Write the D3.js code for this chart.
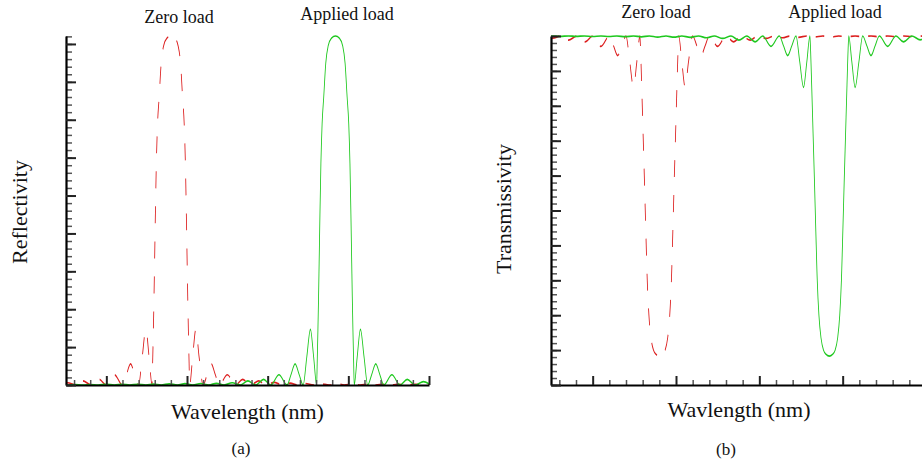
<!DOCTYPE html>
<html lang="en">
<head>
<meta charset="UTF-8">
<title>Reflectivity and transmissivity spectra</title>
<style>
  body { margin: 0; background: #fff; }
</style>
</head>
<body>
<div id="chart"></div>
<script src="https://d3js.org/d3.v7.min.js"></script>
<script>
// [wavelength (nm), value]
const zeroLoadR = [
  [1549.50, 0.003], [1549.52, 0.006], [1549.62, 0], [1549.71, 0.011], [1549.81, 0],
  [1549.91, 0.015], [1550.00, 0], [1550.10, 0.027], [1550.20, 0], [1550.25, 0.028],
  [1550.30, 0.056], [1550.35, 0.028], [1550.40, 0], [1550.445, 0.074], [1550.49, 0.147],
  [1550.53, 0.074], [1550.567, 0], [1550.574, 0.058], [1550.583, 0.145], [1550.591, 0.233],
  [1550.598, 0.322], [1550.608, 0.45], [1550.62, 0.585], [1550.635, 0.69], [1550.655, 0.76],
  [1550.68, 0.849], [1550.71, 0.895], [1550.75, 0.915], [1550.80, 0.921], [1550.85, 0.915],
  [1550.89, 0.895], [1550.92, 0.849], [1550.945, 0.76], [1550.965, 0.69], [1550.98, 0.585],
  [1550.992, 0.45], [1551.002, 0.322], [1551.009, 0.233], [1551.017, 0.145], [1551.026, 0.058],
  [1551.033, 0], [1551.07, 0.074], [1551.11, 0.147], [1551.15, 0.074], [1551.20, 0],
  [1551.25, 0.028], [1551.30, 0.056], [1551.35, 0.028], [1551.40, 0], [1551.50, 0.027],
  [1551.60, 0], [1551.69, 0.015], [1551.79, 0], [1551.89, 0.011], [1551.98, 0],
  [1552.08, 0.007], [1552.18, 0], [1552.28, 0.005], [1552.37, 0], [1552.47, 0.004],
  [1552.57, 0], [1552.66, 0.003], [1552.76, 0], [1552.86, 0.003], [1552.95, 0],
  [1553.05, 0.002], [1553.15, 0], [1553.24, 0.002], [1553.34, 0], [1553.44, 0.002],
  [1553.54, 0], [1553.63, 0.0015], [1553.73, 0], [1553.83, 0.0015], [1553.93, 0],
  [1554.00, 0.001]
];

const appliedLoadR = [
  [1549.50, 0.001], [1549.51, 0], [1549.61, 0.001], [1549.71, 0], [1549.80, 0.001],
  [1549.90, 0], [1550.00, 0.0015], [1550.10, 0], [1550.195, 0.0015], [1550.29, 0],
  [1550.39, 0.002], [1550.49, 0], [1550.585, 0.0025], [1550.68, 0], [1550.78, 0.003],
  [1550.88, 0], [1550.975, 0.0035], [1551.07, 0], [1551.17, 0.004], [1551.27, 0],
  [1551.365, 0.0045], [1551.46, 0], [1551.56, 0.006], [1551.66, 0], [1551.755, 0.011],
  [1551.85, 0], [1551.95, 0.015], [1552.04, 0], [1552.14, 0.027], [1552.24, 0],
  [1552.29, 0.028], [1552.34, 0.056], [1552.39, 0.028], [1552.44, 0], [1552.485, 0.074],
  [1552.53, 0.147], [1552.57, 0.074], [1552.607, 0], [1552.614, 0.058], [1552.623, 0.145],
  [1552.631, 0.233], [1552.638, 0.322], [1552.648, 0.45], [1552.66, 0.585], [1552.675, 0.69],
  [1552.695, 0.76], [1552.72, 0.849], [1552.75, 0.895], [1552.79, 0.915], [1552.84, 0.921],
  [1552.89, 0.915], [1552.93, 0.895], [1552.96, 0.849], [1552.985, 0.76], [1553.005, 0.69],
  [1553.02, 0.585], [1553.032, 0.45], [1553.042, 0.322], [1553.049, 0.233], [1553.057, 0.145],
  [1553.066, 0.058], [1553.073, 0], [1553.11, 0.074], [1553.15, 0.147], [1553.195, 0.074],
  [1553.24, 0], [1553.29, 0.028], [1553.34, 0.056], [1553.39, 0.028], [1553.44, 0],
  [1553.54, 0.027], [1553.64, 0], [1553.73, 0.015], [1553.83, 0], [1553.93, 0.009],
  [1554.00, 0.003]
];

const zeroLoadT = [
  [1549.50, 0.997], [1549.52, 0.994], [1549.62, 1], [1549.71, 0.988], [1549.81, 1],
  [1549.91, 0.983], [1550.00, 1], [1550.10, 0.970], [1550.20, 1], [1550.25, 0.972],
  [1550.30, 0.944], [1550.35, 0.972], [1550.40, 1], [1550.445, 0.926], [1550.49, 0.853],
  [1550.53, 0.926], [1550.567, 1], [1550.575, 0.96], [1550.588, 0.86], [1550.605, 0.72],
  [1550.622, 0.58], [1550.638, 0.44], [1550.655, 0.30], [1550.675, 0.20], [1550.70, 0.135],
  [1550.73, 0.10], [1550.76, 0.088], [1550.80, 0.083], [1550.84, 0.088], [1550.87, 0.10],
  [1550.90, 0.135], [1550.925, 0.20], [1550.945, 0.30], [1550.962, 0.44], [1550.978, 0.58],
  [1550.995, 0.72], [1551.012, 0.86], [1551.025, 0.96], [1551.033, 1], [1551.07, 0.926],
  [1551.11, 0.853], [1551.15, 0.926], [1551.20, 1], [1551.25, 0.972], [1551.30, 0.944],
  [1551.35, 0.972], [1551.40, 1], [1551.50, 0.970], [1551.60, 1], [1551.69, 0.983],
  [1551.79, 1], [1551.89, 0.988], [1551.98, 1], [1552.08, 0.993], [1552.18, 1],
  [1552.28, 0.995], [1552.37, 1], [1552.47, 0.996], [1552.57, 1], [1552.66, 0.997],
  [1552.76, 1], [1552.86, 0.997], [1552.95, 1], [1553.05, 0.998], [1553.15, 1],
  [1553.24, 0.998], [1553.34, 1], [1553.44, 0.998], [1553.54, 1], [1553.63, 0.9985],
  [1553.73, 1], [1553.83, 0.9985], [1553.93, 1], [1554.00, 0.999]
];

const appliedLoadT = [
  [1549.50, 0.999], [1549.51, 1], [1549.61, 0.999], [1549.71, 1], [1549.80, 0.999],
  [1549.90, 1], [1550.00, 0.9985], [1550.10, 1], [1550.195, 0.9985], [1550.29, 1],
  [1550.39, 0.998], [1550.49, 1], [1550.585, 0.9975], [1550.68, 1], [1550.78, 0.997],
  [1550.88, 1], [1550.975, 0.9965], [1551.07, 1], [1551.17, 0.996], [1551.27, 1],
  [1551.365, 0.995], [1551.46, 1], [1551.56, 0.993], [1551.66, 1], [1551.755, 0.988],
  [1551.85, 1], [1551.95, 0.983], [1552.04, 1], [1552.14, 0.970], [1552.24, 1],
  [1552.29, 0.972], [1552.34, 0.944], [1552.39, 0.972], [1552.44, 1], [1552.485, 0.926],
  [1552.53, 0.853], [1552.57, 0.926], [1552.607, 1], [1552.615, 0.96], [1552.628, 0.86],
  [1552.645, 0.72], [1552.662, 0.58], [1552.678, 0.44], [1552.695, 0.30], [1552.715, 0.20],
  [1552.74, 0.135], [1552.77, 0.10], [1552.80, 0.088], [1552.84, 0.083], [1552.88, 0.088],
  [1552.91, 0.10], [1552.94, 0.135], [1552.965, 0.20], [1552.985, 0.30], [1553.002, 0.44],
  [1553.018, 0.58], [1553.035, 0.72], [1553.052, 0.86], [1553.065, 0.96], [1553.073, 1],
  [1553.11, 0.926], [1553.15, 0.853], [1553.195, 0.926], [1553.24, 1], [1553.29, 0.972],
  [1553.34, 0.944], [1553.39, 0.972], [1553.44, 1], [1553.54, 0.970], [1553.64, 1],
  [1553.73, 0.983], [1553.83, 1], [1553.93, 0.989], [1554.00, 0.997]
];

const xDomain = [1549.5, 1554];
const xMajor = [1550, 1551, 1552, 1553, 1554];
const xMinor = d3.range(1549.6, 1554.01, 0.2).filter(v => Math.abs(v - Math.round(v)) > 0.01);

const width = 922, height = 466;
const plotTop = 36, plotBottom = 385;
const K = 2; // the original plot looks stretched vertically: strokes/dashes drawn in the unstretched frame
const serif = "'Liberation Serif', Tinos, 'Times New Roman', 'Nimbus Roman', 'DejaVu Serif', serif";

const svg = d3.select("#chart").append("svg")
    .attr("width", width)
    .attr("height", height);

function drawPanel(p) {
    const x = d3.scaleLinear().domain(xDomain).range([p.left, p.right]);
    const y = d3.scaleLinear().domain([0, p.yMax]).range([plotBottom, plotTop]);

    const line = d3.line()
        .x(d => x(d[0]))
        .y(d => y(d[1]) / K)
        .curve(d3.curveMonotoneX);

    const curves = svg.append("g").attr("transform", `scale(1,${K})`);
    p.series.forEach(s => {
        curves.append("path")
            .datum(s.data)
            .attr("d", line)
            .attr("fill", "none")
            .attr("stroke", s.color)
            .attr("stroke-width", 0.85)
            .attr("stroke-dasharray", s.dash);
    });

    const yMinor = d3.range(0, p.yMax + 1e-6, 0.02);
    const yMajor = d3.range(0, p.yMax + 1e-6, 0.1);

    // minor ticks first, majors + axis line on top
    svg.append("g").attr("transform", `translate(0,${plotBottom})`)
        .call(d3.axisBottom(x).tickValues(xMinor).tickSize(-5).tickSizeOuter(0).tickFormat(""))
        .call(g => g.select(".domain").remove())
        .call(g => g.selectAll(".tick line").attr("stroke", "#555").attr("stroke-width", 1.5));
    svg.append("g").attr("transform", `translate(${p.left},0)`)
        .call(d3.axisLeft(y).tickValues(yMinor).tickSize(-6).tickSizeOuter(0).tickFormat(""))
        .call(g => g.select(".domain").remove())
        .call(g => g.selectAll(".tick line").attr("stroke", "#555").attr("stroke-width", 1.5));

    svg.append("g").attr("transform", `translate(0,${plotBottom})`)
        .call(d3.axisBottom(x).tickValues(xMajor).tickSize(-9).tickSizeOuter(0).tickFormat(""))
        .call(g => g.select(".domain").attr("stroke", "#000").attr("stroke-width", 2.2))
        .call(g => g.selectAll(".tick line").attr("stroke", "#222").attr("stroke-width", 2));
    svg.append("g").attr("transform", `translate(${p.left},0)`)
        .call(d3.axisLeft(y).tickValues(yMajor).tickSize(-10).tickSizeOuter(0).tickFormat(""))
        .call(g => g.select(".domain").attr("stroke", "#000").attr("stroke-width", 2.2))
        .call(g => g.selectAll(".tick line").attr("stroke", "#222").attr("stroke-width", 2));

    p.labels.forEach(l => {
        svg.append("text")
            .attr("transform", `translate(${l.x},${l.y})` + (l.rotate ? " rotate(-90)" : ""))
            .attr("text-anchor", "middle")
            .attr("font-family", serif)
            .attr("font-size", l.size)
            .attr("fill", "#111")
            .text(l.text);
    });
}

const red = "#dc1e1e", green = "#1ec81e";

drawPanel({
    left: 66, right: 429, yMax: 0.921,
    series: [
        { data: zeroLoadR, color: red, dash: "8.5,9" },
        { data: appliedLoadR, color: green, dash: null }
    ],
    labels: [
        { text: "Zero load", x: 179, y: 22.5, size: 18 },
        { text: "Applied load", x: 347, y: 19.5, size: 18 },
        { text: "Reflectivity", x: 27, y: 212, size: 22, rotate: true },
        { text: "Wavelength (nm)", x: 247.5, y: 419, size: 22 },
        { text: "(a)", x: 241, y: 454, size: 17 }
    ]
});

drawPanel({
    left: 551, right: 926, yMax: 1,
    series: [
        { data: zeroLoadT, color: red, dash: "8.5,9" },
        { data: appliedLoadT, color: green, dash: null }
    ],
    labels: [
        { text: "Zero load", x: 656, y: 17.7, size: 18 },
        { text: "Applied load", x: 835, y: 17.7, size: 18 },
        { text: "Transmissivity", x: 511, y: 209, size: 22, rotate: true },
        { text: "Wavlength (nm)", x: 739, y: 417, size: 22 },
        { text: "(b)", x: 726, y: 455, size: 17 }
    ]
});
</script>
</body>
</html>
